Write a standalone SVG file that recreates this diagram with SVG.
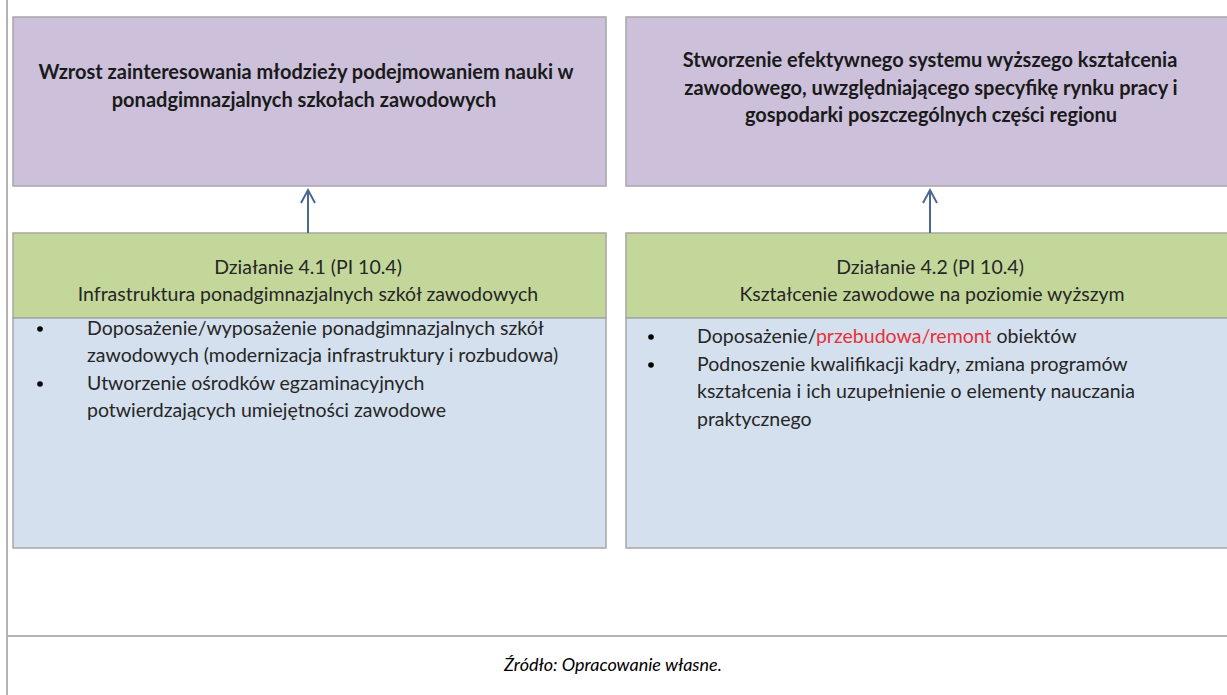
<svg xmlns="http://www.w3.org/2000/svg" width="1227" height="695" viewBox="0 0 1227 695">
<defs>
<style>
.t{font-family:Lato,"Open Sans","Liberation Sans",sans-serif;fill:#1a1a1a}
.hd{font-size:20px;font-weight:bold;text-anchor:middle}
.gr{font-size:19.5px;text-anchor:middle;fill:#262626}
.bl{font-size:19.5px;fill:#262626}
.red{fill:#e8303a}
.cap{font-size:18px;font-style:italic;text-anchor:middle;fill:#000}
.purple{fill:#ccc0da;stroke:#a6a6a6;stroke-width:1.5}
.green{fill:#c4d79b;stroke:#a6a6a6;stroke-width:1.5}
.blue{fill:#d4e0ee;stroke:#a6a6a6;stroke-width:1.5}
.grid{stroke:#b3b3b3;stroke-width:2;fill:none}
.conn{stroke:#4a6890;stroke-width:2;fill:none}
</style>
</defs>
<rect width="1227" height="695" fill="#fff"/>
<g id="grid">
<line class="grid" x1="7" y1="0" x2="7" y2="695"/>
<line class="grid" x1="7" y1="636" x2="1227" y2="636"/>
</g>
<g id="goal1">
<rect class="purple" x="13" y="17" width="593" height="169"/>
<text class="t hd" x="306" y="79">Wzrost zainteresowania młodzieży podejmowaniem nauki w</text>
<text class="t hd" x="304" y="107">ponadgimnazjalnych szkołach zawodowych</text>
</g>
<g id="goal2">
<rect class="purple" x="626" y="17" width="608" height="169"/>
<text class="t hd" x="930" y="67">Stworzenie efektywnego systemu wyższego kształcenia</text>
<text class="t hd" x="931" y="95">zawodowego, uwzględniającego specyfikę rynku pracy i</text>
<text class="t hd" x="931" y="122">gospodarki poszczególnych części regionu</text>
</g>
<g id="action1">
<rect class="green" x="13" y="233" width="593" height="85"/>
<text class="t gr" x="308" y="274">Działanie 4.1 (PI 10.4)</text>
<text class="t gr" x="308" y="301">Infrastruktura ponadgimnazjalnych szkół zawodowych</text>
</g>
<g id="action2">
<rect class="green" x="626" y="233" width="608" height="85"/>
<text class="t gr" x="930" y="274">Działanie 4.2 (PI 10.4)</text>
<text class="t gr" x="932" y="301">Kształcenie zawodowe na poziomie wyższym</text>
</g>
<g id="list1">
<rect class="blue" x="13" y="318" width="593" height="230"/>
<circle cx="40" cy="329" r="2.8" fill="#000"/>
<circle cx="40" cy="384" r="2.8" fill="#000"/>
<text class="t bl" x="87" y="335">Doposażenie/wyposażenie ponadgimnazjalnych szkół</text>
<text class="t bl" x="87" y="362">zawodowych (modernizacja infrastruktury i rozbudowa)</text>
<text class="t bl" x="87" y="390">Utworzenie ośrodków egzaminacyjnych</text>
<text class="t bl" x="87" y="417">potwierdzających umiejętności zawodowe</text>
</g>
<g id="list2">
<rect class="blue" x="626" y="318" width="608" height="230"/>
<circle cx="651" cy="337" r="2.8" fill="#000"/>
<circle cx="651" cy="365" r="2.8" fill="#000"/>
<text class="t bl" x="697" y="343">Doposażenie/<tspan class="red">przebudowa/remont</tspan> obiektów</text>
<text class="t bl" x="697" y="371">Podnoszenie kwalifikacji kadry, zmiana programów</text>
<text class="t bl" x="697" y="398">kształcenia i ich uzupełnienie o elementy nauczania</text>
<text class="t bl" x="697" y="426">praktycznego</text>
</g>
<g id="connectors">
<line class="conn" x1="308" y1="233" x2="308" y2="190"/>
<path class="conn" d="M301,203 L308,190 L315,203"/>
<line class="conn" x1="930" y1="233" x2="930" y2="190"/>
<path class="conn" d="M923,203 L930,190 L937,203"/>
</g>
<g id="caption">
<text class="t cap" x="613" y="671">Źródło: Opracowanie własne.</text>
</g>
</svg>
